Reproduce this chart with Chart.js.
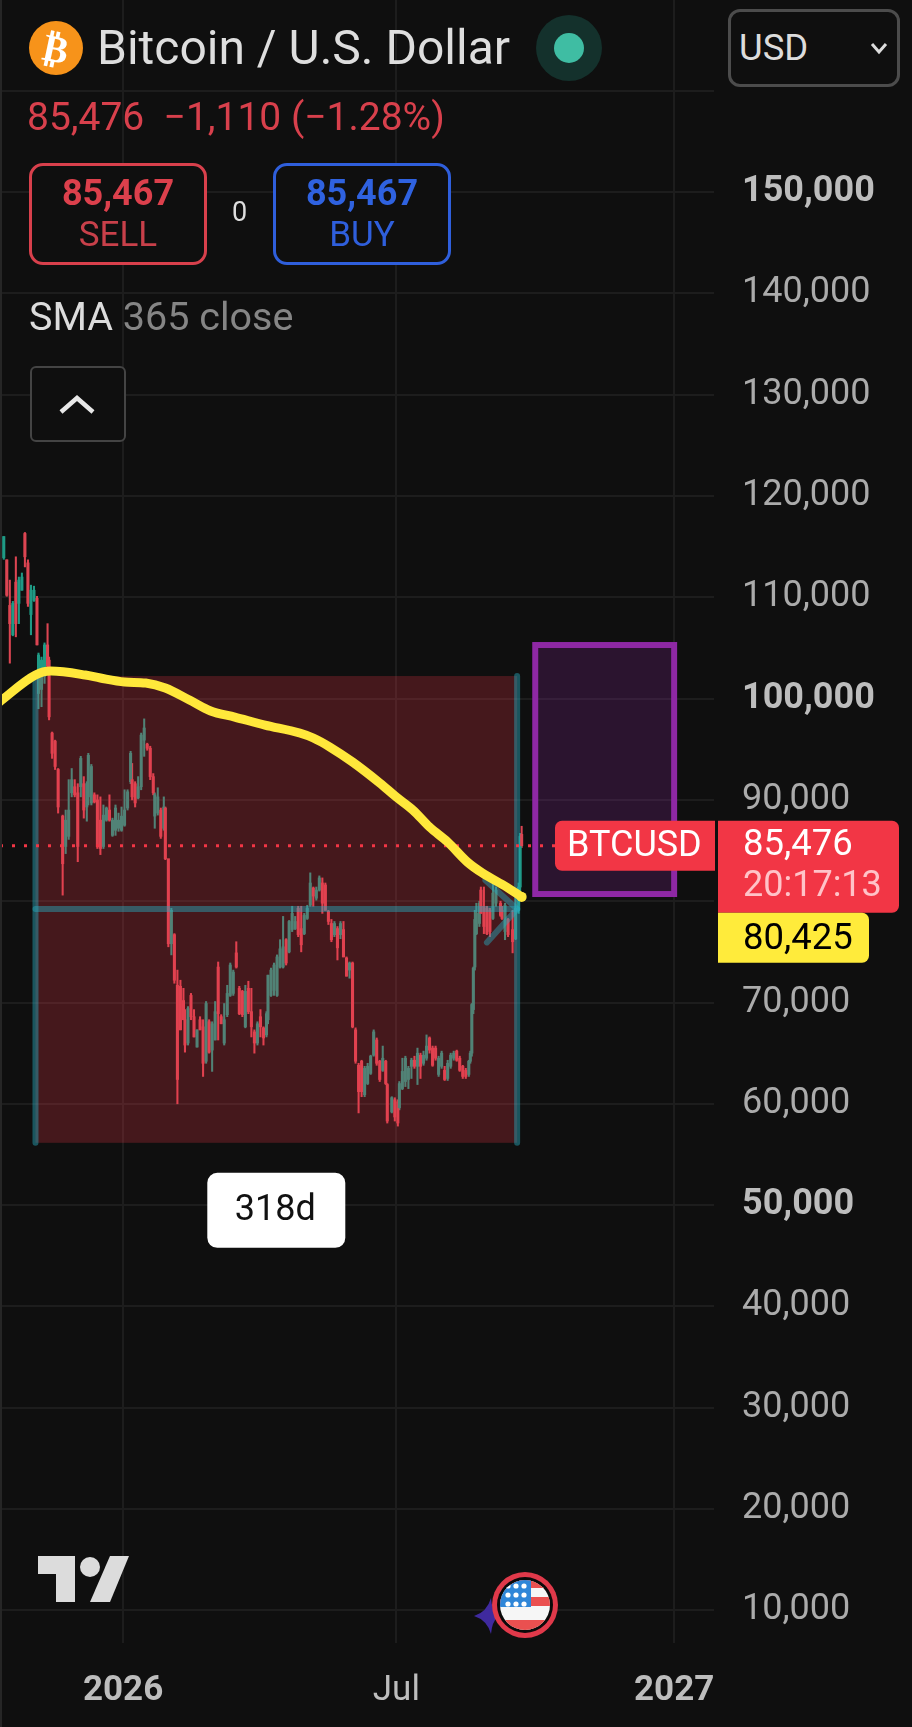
<!DOCTYPE html>
<html>
<head>
<meta charset="utf-8">
<title>Bitcoin / U.S. Dollar</title>
<script src="https://cdn.jsdelivr.net/npm/chart.js@4/dist/chart.umd.min.js"></script>
<style>
html, body { margin: 0; padding: 0; background: #0f0f0f; }
#wrap { position: relative; width: 912px; height: 1727px; overflow: hidden; font-family: Roboto, sans-serif; }
canvas { position: absolute; left: 0; top: 0; }
.t { position: absolute; white-space: nowrap; line-height: 1; }
.box { position: absolute; box-sizing: border-box; background: #0f0f0f; }
svg { position: absolute; left: 0; top: 0; }
</style>
</head>
<body>
<div id="wrap">
    <canvas id="chart" width="912" height="1727"></canvas>

    <div class="box" style="left:0;top:0;width:2px;height:1727px;background:#262626"></div>
    <div class="t" style="left:97px;top:24px;font-size:48px;color:#dedede">Bitcoin / U.S. Dollar</div>
    <div class="t" style="left:27px;top:98px;font-size:39px;color:#d8404c">85,476&nbsp; −1,110 (−1.28%)</div>

    <div class="box" style="left:29px;top:163px;width:178px;height:102px;border:3px solid #d8404c;border-radius:14px"></div>
    <div class="t" style="left:29px;width:178px;text-align:center;top:175px;font-size:36px;font-weight:700;color:#dc404c">85,467</div>
    <div class="t" style="left:29px;width:178px;text-align:center;top:217px;font-size:35px;color:#c8404a">SELL</div>
    <div class="t" style="left:232px;top:199px;font-size:27px;color:#dedede">0</div>
    <div class="box" style="left:273px;top:163px;width:178px;height:102px;border:3px solid #2f5fdc;border-radius:14px"></div>
    <div class="t" style="left:273px;width:178px;text-align:center;top:175px;font-size:36px;font-weight:700;color:#2f62e0">85,467</div>
    <div class="t" style="left:273px;width:178px;text-align:center;top:217px;font-size:35px;color:#2f5fdc">BUY</div>

    <div class="t" style="left:29px;top:297px;font-size:39.5px;color:#dcdcdc">SMA <span style="color:#858585">365 close</span></div>
    <div class="box" style="left:30px;top:366px;width:96px;height:76px;border:2px solid #444;border-radius:6px"></div>

    <div class="box" style="left:728px;top:9px;width:172px;height:78px;border:3px solid #4c4c4c;border-radius:12px"></div>
    <div class="t" style="left:739px;top:30px;font-size:36.5px;color:#dcdcdc">USD</div>

    <svg width="912" height="1727">
        <circle cx="56" cy="48" r="27" fill="#f7931a"/>
        <text x="56" y="62" text-anchor="middle" font-family="DejaVu Sans" font-weight="700" font-size="38" fill="#fff" transform="rotate(12 56 48)">₿</text>
        <circle cx="569" cy="48" r="33" fill="#14312c"/>
        <circle cx="569" cy="48" r="15" fill="#3fbda3"/>
        <polyline points="61,412 77,398 93,412" fill="none" stroke="#e8e8e8" stroke-width="4.5"/>
        <polyline points="872,44 879,52 886,44" fill="none" stroke="#dcdcdc" stroke-width="3"/>
        <path d="M38 1556H75V1602H56V1574H38Z" fill="#dcdcdc"/>
        <circle cx="90" cy="1567" r="10" fill="#dcdcdc"/>
        <path d="M110 1556H129L110 1602H90Z" fill="#dcdcdc"/>
        <path d="M474 1616Q487 1612 491 1598Q492 1612 498 1616Q492 1622 491 1634Q487 1620 474 1616Z" fill="#3f2a9e"/>
        <circle cx="525" cy="1605" r="33" fill="#e0394a"/>
        <circle cx="525" cy="1605" r="28" fill="#0a0a0a"/>
        <clipPath id="flagClip"><circle cx="525" cy="1605" r="25"/></clipPath>
        <g clip-path="url(#flagClip)">
            <rect x="500" y="1580" width="50" height="50" fill="#f6f6f6"/>
            <rect x="500" y="1580" width="50" height="8" fill="#ea5050"/>
            <rect x="500" y="1597" width="50" height="9" fill="#ea5050"/>
            <rect x="500" y="1620" width="50" height="10" fill="#ea5050"/>
            <rect x="500" y="1580" width="31" height="27" fill="#2f86d8"/>
            <g fill="#fff">
                <circle cx="508" cy="1586" r="2.6"/><circle cx="516" cy="1586" r="2.6"/><circle cx="524" cy="1586" r="2.6"/>
                <circle cx="508" cy="1595" r="2.6"/><circle cx="516" cy="1595" r="2.6"/><circle cx="524" cy="1595" r="2.6"/>
                <circle cx="508" cy="1604" r="2.6"/><circle cx="516" cy="1604" r="2.6"/><circle cx="524" cy="1604" r="2.6"/>
            </g>
        </g>
    </svg>
</div>

<script>
// price axis
const yTicks = [160000, 150000, 140000, 130000, 120000, 110000, 100000, 90000, 80000, 70000, 60000, 50000, 40000, 30000, 20000, 10000];
const yBoldTicks = [150000, 100000, 50000];
const yHiddenLabels = [160000, 80000];

// time axis, days counted from 1 Jan 2026
const xTickDays = [0, 181, 365];
const xTickLabels = ['2026', 'Jul', '2027'];
const xBoldDays = [0, 365];

// daily candles, thinned to roughly every second day
const candleDays = [-79,-77,-75,-73,-71,-69,-67,-65,-63,-61,-59,-57,-56,-54,-52,-50,-49,-47,-45,-43,-40,-38,-36,-34,-32,-30,-28,-26,-24,-23,-21,-19,-17,-15,-13,-11,-9,-7,-5,-3,-1,1,3,5,6,8,10,12,14,16,18,20,21,23,25,27,28,30,32,34,36,38,40,41,43,45,47,49,51,53,55,57,59,61,63,65,67,69,71,73,75,77,79,81,83,85,87,89,91,93,95,96,98,100,102,104,106,108,110,112,114,116,118,120,122,124,126,128,130,132,134,136,138,140,142,144,146,148,150,152,154,156,158,160,162,164,166,168,170,172,174,175,178,180,182,183,185,187,189,191,193,195,197,199,201,203,205,207,209,211,213,215,217,219,221,223,225,227,229,230,231,232,233,234,236,237,239,241,243,245,247,250,251,253,255,258,260,262,263,264];
const candleOpen = [113900,113700,109200,106300,111500,109400,110700,116300,113400,108300,109700,109900,100500,100900,102200,105300,103800,96600,95800,93000,88400,85400,86400,90700,91300,90700,91300,91600,89300,90300,89700,90500,90000,88000,85400,88000,89000,86500,87000,87200,87000,87500,89200,91800,92000,91600,90200,91300,95900,95500,95100,92300,88400,88700,89000,87200,89200,84200,75800,76700,71700,71600,70200,68300,66000,70700,68600,65600,68300,67600,64200,68100,65300,66300,73500,68600,66000,68800,70700,70900,74900,71400,71100,67600,71400,69100,67100,66000,68600,67500,66800,68300,70700,71200,70700,73500,73500,76200,75000,77200,77300,79300,77300,76800,78300,79600,81300,80300,81100,81800,81600,79000,77800,76700,77300,76700,77200,74400,73200,73900,67300,63800,64200,60900,62000,63000,64800,66300,64200,63300,64200,61900,59200,60400,60200,59600,61500,62200,62400,63700,64300,63700,64800,64000,64500,66500,65500,65500,62900,63700,63300,62500,63700,64500,65200,64500,63700,63300,62900,64200,65000,69300,73500,76800,77800,81100,79500,79300,79100,78300,79800,79800,79100,77000,78200,77200,76300,79100,81400,86600];
const candleHigh = [116000,113700,111700,109600,114000,112000,112400,116400,113700,111200,111100,110100,104500,104100,105500,107400,104100,96700,95900,93100,88500,89000,92000,93100,92000,91600,94300,92300,91800,94600,93500,90700,90500,90300,89500,89300,90500,88200,89500,88700,89300,91000,91000,94800,93600,91800,92300,96600,98000,95600,95300,92600,90700,91200,89200,90300,89300,84100,79300,76800,73200,72200,71400,69300,69600,70900,69300,67300,68600,68300,70100,68300,68100,70100,74000,68800,69900,71700,73900,73200,76000,71600,71200,71700,72100,71400,67300,68100,69300,67600,69100,72700,73400,73900,74700,76200,78500,76300,78100,79500,78500,79500,79500,78800,79600,82800,81400,81400,82500,82300,81800,79100,78200,78000,77500,78000,78000,74500,74000,74000,67500,64000,64300,63700,64000,64800,67300,66500,64300,65700,64300,62000,60700,60600,60400,62200,64500,64700,63700,64500,64700,65500,65000,65200,66800,66600,65700,65700,64700,65200,63700,64300,65000,65200,65300,64700,63800,63500,64300,65200,69900,73500,79100,79800,80000,81400,81400,79500,79300,82300,81400,80000,79500,79800,78300,79100,80500,81800,86700,87400];
const candleLow = [113750,110100,103500,106200,106100,107400,110700,113000,109100,106300,109600,105300,99000,99200,101500,102800,97900,94100,93000,88700,80600,84700,86100,90300,90300,83900,90300,88200,87900,89500,89500,89700,85200,84600,85200,87900,87900,86400,86500,86900,86900,87400,89000,91600,90000,89300,90100,91000,94300,94900,92000,90500,87200,88500,86200,87000,84100,75500,74700,71900,60000,67300,68300,65100,65800,68300,66600,65600,67300,62700,64000,65000,63200,66300,66300,67900,65800,68600,70600,70700,73400,68800,68600,67500,68900,66600,65000,65800,66600,65800,66600,67900,70600,70700,70600,73400,73400,73700,74900,77000,77200,76500,75000,76700,78200,79500,79500,80100,81000,78800,79100,77700,76000,76500,74200,76300,74500,72600,72400,67500,64000,59100,60700,60700,61900,62900,64700,63800,62200,63200,61900,58100,59100,58300,57800,59400,61400,61700,61500,62500,63500,61900,62500,63800,64300,65000,63700,64300,62700,63500,62300,62300,63500,64300,64200,63200,62500,62500,62700,64000,64700,68900,73200,76700,77500,78800,76800,76700,76500,78200,79500,78500,78200,76200,76500,74900,76200,78800,81000,85300];
const candleClose = [116000,110200,107400,109400,107400,111700,112000,114000,109400,110700,110700,105300,104300,103800,105300,103200,98200,94600,93300,89300,83700,88000,89000,92000,90500,85400,94100,89000,91600,94400,93300,89800,85400,85200,88500,89200,88000,88000,89200,88000,88400,89000,90800,94600,90300,89700,91300,96400,97100,95100,92300,90700,90500,90300,86400,89300,84200,75800,79100,72200,62400,67300,68300,65800,69400,68600,66600,67300,67300,64000,69900,65100,67900,69100,68900,67900,68300,70900,73700,73000,73500,68900,68800,71100,69100,67600,66000,67900,67600,66500,68900,72700,73200,73700,74500,75300,75500,73900,78000,78800,78000,76700,75700,78600,79300,81800,80500,81100,82300,79800,79100,78000,76200,77800,75400,77800,74500,72600,73900,67600,64200,61200,61200,63500,63700,64700,67100,64000,62400,64500,62000,58300,60600,58700,58100,62000,63200,64500,63500,64300,63700,65000,63700,64800,65700,65300,63800,64500,64500,65000,62400,64000,64800,65000,64300,63300,62700,62700,64200,65000,69800,73400,78200,78800,79800,78800,77500,76800,77000,80800,81100,78600,78300,79600,76700,76000,79300,81400,86400,85476];

// SMA 365 line
const smaDays = [-82,-58,-48,-25,-15,1,15,28,44,58,74,94,117,126,137,152,170,181,192,203,215,228,238,254,264];
const smaValues = [99660,102330,102720,102330,102030,101640,101540,101050,99860,98780,98180,97390,96600,96110,95220,93740,91670,90290,89000,87320,85840,83870,82780,81400,80425];

// date range measure drawing, price box and last price
const measureDays = [-58, 261];
const measureLow = 56150;
const measureHigh = 102230;
const measureMid = 79230;
const measureLabel = '318d';
const arrowDays = [240, 241];
const arrowPrices = [82070, 75930];
const boxDays = [273, 365];
const boxPrices = [80710, 105290];
const lastPrice = 85476;
const smaPrice = 80425;
const countdown = '20:17:13';
const symbolLabel = 'BTCUSD';

const upColor = '#1f9a85';
const downColor = '#f23645';
const candleDown = '#dc4552';
const labelFont = '36.5px Roboto';

function fmt(v) {
    return v.toLocaleString('en-US');
}

// the axes must not push the plot area in for their outer labels
function noPadding(axis) {
    axis.paddingTop = 0;
    axis.paddingBottom = 0;
    axis.paddingLeft = 0;
    axis.paddingRight = 0;
}

var overlay = {
    id: 'overlay',
    afterDatasetDraw: function(chart, args) {
        // drawings sit above the candles but below the SMA line
        if (args.index !== 1) return;
        const x = chart.scales.x, y = chart.scales.y, c = chart.ctx;
        const x0 = x.getPixelForValue(measureDays[0]), x1 = x.getPixelForValue(measureDays[1]);
        const yTop = y.getPixelForValue(measureHigh), yBot = y.getPixelForValue(measureLow), yMid = y.getPixelForValue(measureMid);
        c.save();
        c.fillStyle = 'rgba(242,54,69,0.24)';
        c.fillRect(x0, yTop, x1 - x0, yBot - yTop);

        c.strokeStyle = 'rgba(41,170,190,0.45)';
        c.lineWidth = 6;
        c.lineCap = 'round';
        c.lineJoin = 'round';
        c.beginPath();
        c.moveTo(x0, yTop); c.lineTo(x0, yBot);
        c.moveTo(x1, yTop); c.lineTo(x1, yBot);
        c.stroke();
        c.beginPath();
        c.moveTo(x0, yMid); c.lineTo(x1, yMid);
        c.stroke();
        c.beginPath();
        c.moveTo(x.getPixelForValue(arrowDays[0]), y.getPixelForValue(arrowPrices[0]));
        c.lineTo(x1, yMid);
        c.lineTo(x.getPixelForValue(arrowDays[1]), y.getPixelForValue(arrowPrices[1]));
        c.stroke();

        const bx0 = x.getPixelForValue(boxDays[0]), bx1 = x.getPixelForValue(boxDays[1]);
        const by0 = y.getPixelForValue(boxPrices[1]), by1 = y.getPixelForValue(boxPrices[0]);
        c.fillStyle = 'rgba(156,39,176,0.2)';
        c.fillRect(bx0, by0, bx1 - bx0, by1 - by0);
        c.strokeStyle = '#8e28a4';
        c.lineWidth = 6;
        c.lineCap = 'butt';
        c.lineJoin = 'miter';
        c.strokeRect(bx0, by0, bx1 - bx0, by1 - by0);

        // dotted last price line
        const py = y.getPixelForValue(lastPrice);
        c.strokeStyle = downColor;
        c.lineWidth = 3;
        c.setLineDash([3, 9]);
        c.beginPath();
        c.moveTo(x.left, py); c.lineTo(x.right, py);
        c.stroke();
        c.restore();
    },
    afterDraw: function(chart) {
        const x = chart.scales.x, y = chart.scales.y, c = chart.ctx;
        const py = y.getPixelForValue(lastPrice);
        const mid = (x.getPixelForValue(measureDays[0]) + x.getPixelForValue(measureDays[1])) / 2;
        const tagTop = y.getPixelForValue(measureLow) + 30;
        c.save();
        c.textBaseline = 'middle';

        c.fillStyle = '#ffffff';
        c.beginPath();
        c.roundRect(mid - 69, tagTop, 138, 75, 10);
        c.fill();
        c.fillStyle = '#111';
        c.font = '36px Roboto';
        c.textAlign = 'center';
        c.fillText(measureLabel, mid - 1, tagTop + 38);

        // symbol tag, price tag, indicator tag
        c.fillStyle = downColor;
        c.beginPath();
        c.roundRect(555, py - 25, 160, 50, [7, 0, 0, 7]);
        c.fill();
        c.beginPath();
        c.roundRect(718, py - 25, 181, 92, [0, 7, 7, 0]);
        c.fill();
        c.fillStyle = '#ffeb3b';
        c.beginPath();
        c.roundRect(718, py + 67, 151, 50, [0, 7, 7, 0]);
        c.fill();

        c.textAlign = 'left';
        c.fillStyle = '#ffffff';
        c.font = '36px Roboto';
        c.fillText(symbolLabel, 567, py + 1);
        c.font = labelFont;
        c.fillText(fmt(lastPrice), 743, py);
        c.fillStyle = '#ffc3c8';
        c.font = '36px Roboto';
        c.fillText(countdown, 743, py + 41);
        c.fillStyle = '#000';
        c.font = labelFont;
        c.fillText(fmt(smaPrice), 743, py + 94);
        c.restore();
    }
};

const bodies = candleDays.map(function(d, i) {
    return { x: d, y: [candleOpen[i], candleClose[i]] };
});
const wicks = candleDays.map(function(d, i) {
    return { x: d, y: [candleLow[i], candleHigh[i]] };
});
const candleColors = candleDays.map(function(d, i) {
    return candleClose[i] >= candleOpen[i] ? upColor : candleDown;
});
const smaPoints = smaDays.map(function(d, i) {
    return { x: d, y: smaValues[i] };
});

new Chart(document.getElementById('chart'), {
    type: 'bar',
    data: {
        datasets: [
            { label: 'High-Low', data: wicks, backgroundColor: candleColors, barThickness: 1.4, grouped: false, order: 3 },
            { label: 'BTCUSD', data: bodies, backgroundColor: candleColors, barThickness: 2.4, grouped: false, order: 2 },
            {
                type: 'line',
                label: 'SMA 365',
                data: smaPoints,
                borderColor: '#ffe83b',
                backgroundColor: '#ffe83b',
                borderWidth: 9,
                cubicInterpolationMode: 'monotone',
                pointBorderWidth: 0,
                pointRadius: function(ctx) {
                    return ctx.dataIndex === smaDays.length - 1 ? 5 : 0;
                },
                order: 1
            }
        ]
    },
    options: {
        responsive: false,
        animation: false,
        devicePixelRatio: 1,
        layout: { padding: 0, autoPadding: false },
        plugins: { legend: { display: false }, tooltip: { enabled: false } },
        scales: {
            x: {
                type: 'linear',
                offset: false,
                min: -81.5,
                max: 391.4,
                border: { display: false },
                grid: { color: '#1d1d1d', lineWidth: 2, drawTicks: false, offset: false },
                afterBuildTicks: function(axis) {
                    axis.ticks = xTickDays.map(function(v) { return { value: v }; });
                },
                afterFit: function(axis) {
                    axis.height = 84;
                    noPadding(axis);
                },
                ticks: {
                    autoSkip: false,
                    maxRotation: 0,
                    padding: 27,
                    color: '#bdbdbd',
                    font: function(ctx) {
                        const bold = ctx.tick && xBoldDays.includes(ctx.tick.value);
                        return { family: 'Roboto', size: 35, weight: bold ? '700' : '400' };
                    },
                    callback: function(v) {
                        return xTickLabels[xTickDays.indexOf(v)];
                    }
                }
            },
            y: {
                position: 'right',
                min: 6772,
                max: 168966,
                border: { display: false },
                grid: { color: '#1d1d1d', lineWidth: 2, drawTicks: false },
                afterBuildTicks: function(axis) {
                    axis.ticks = yTicks.map(function(v) { return { value: v }; });
                },
                afterFit: function(axis) {
                    axis.width = 198;
                    noPadding(axis);
                },
                ticks: {
                    autoSkip: false,
                    padding: 28,
                    crossAlign: 'near',
                    labelOffset: 0,
                    color: function(ctx) {
                        return ctx.tick && yBoldTicks.includes(ctx.tick.value) ? '#bdbdbd' : '#ababab';
                    },
                    font: function(ctx) {
                        const bold = ctx.tick && yBoldTicks.includes(ctx.tick.value);
                        return { family: 'Roboto', size: 36, weight: bold ? '700' : '400' };
                    },
                    callback: function(v) {
                        return yHiddenLabels.includes(v) ? '' : fmt(v);
                    }
                }
            }
        }
    },
    plugins: [overlay]
});
</script>
</body>
</html>
